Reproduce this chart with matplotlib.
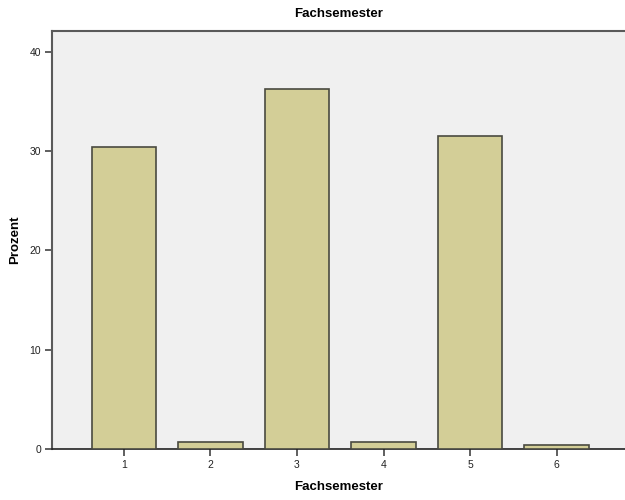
import matplotlib
matplotlib.use("Agg")
import matplotlib.pyplot as plt

categories = ["1", "2", "3", "4", "5", "6"]
values = [30.37, 0.74, 36.30, 0.74, 31.48, 0.37]
yticks = [0, 10, 20, 30, 40]

plt.rcParams['font.family'] = ['Liberation Sans', 'DejaVu Sans']

fig = plt.figure(figsize=(6.25, 5), dpi=100)
ax = fig.add_axes([52/625, 1 - 449/500, (625 - 52)/625, (449 - 31)/500])
ax.set_facecolor('#f0f0f0')

x = list(range(1, len(categories) + 1))
ax.bar(x, values, width=0.745, color='#d3ce97', edgecolor='#4a4a40', linewidth=1.2, zorder=3)

ax.set_xlim(0.169, 6.79)
ax.set_ylim(0, 42.1)
ax.set_xticks(x)
ax.set_xticklabels(categories)
ax.set_yticks(yticks)
ax.tick_params(axis='both', labelsize=7.5, length=5, width=1.2, color='#444444', labelcolor='#222222', direction='out', pad=3)

for s in ['left', 'top']:
    ax.spines[s].set_color('#5a5a5a')
    ax.spines[s].set_linewidth(1.5)
ax.spines['bottom'].set_color('#222222')
ax.spines['bottom'].set_linewidth(1.2)
ax.spines['right'].set_visible(False)

ax.set_title('Fachsemester', fontsize=9.5, fontweight='bold', pad=10)
ax.set_xlabel('Fachsemester', fontsize=9.5, fontweight='bold', labelpad=8)
ax.set_ylabel('Prozent', fontsize=9.5, fontweight='bold', labelpad=6)

fig.savefig('out.png', dpi=100)
